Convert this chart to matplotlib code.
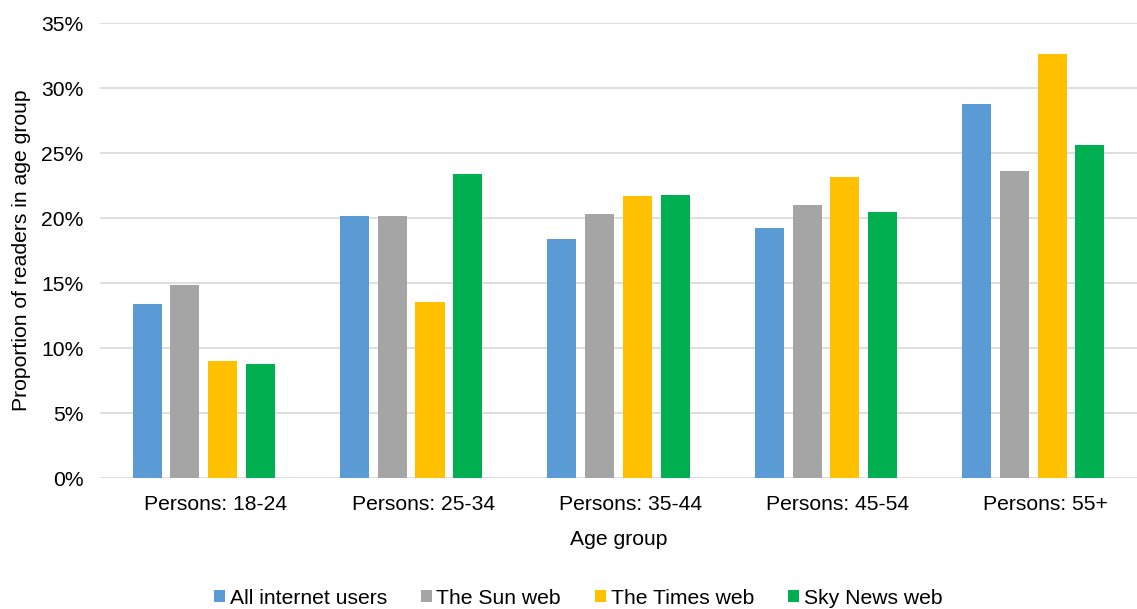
import matplotlib
matplotlib.use("Agg")
import matplotlib.pyplot as plt
import matplotlib.transforms as mtransforms
import numpy as np
from matplotlib.ticker import FuncFormatter

categories = ["Persons: 18-24", "Persons: 25-34", "Persons: 35-44", "Persons: 45-54", "Persons: 55+"]
series_names = ["All internet users", "The Sun web", "The Times web", "Sky News web"]
all_internet = [13.38, 20.2, 18.37, 19.21, 28.77]
sun_web = [14.87, 20.14, 20.32, 20.99, 23.6]
times_web = [8.97, 13.56, 21.68, 23.14, 32.59]
sky_web = [8.74, 23.4, 21.76, 20.47, 25.61]
colors = ["#5B9BD5", "#A5A5A5", "#FFC000", "#00B050"]
yticks = [0, 5, 10, 15, 20, 25, 30, 35]

plt.rcParams['font.family'] = ['Liberation Sans', 'DejaVu Sans']
FS = 15.2

fig = plt.figure(figsize=(11.37, 6.09), dpi=100)
ax = fig.add_axes([0.088, 0.215, 0.912, 0.747])

x = np.arange(len(categories))
pitch = 0.182
width = 0.14
data = [all_internet, sun_web, times_web, sky_web]
for i, (vals, name, c) in enumerate(zip(data, series_names, colors)):
    ax.bar(x + (i - 1.5) * pitch, vals, width=width, color=c, label=name, zorder=3)

ax.set_xlim(-0.5, len(categories) - 0.5)
ax.set_ylim(0, 35)
ax.set_yticks(yticks)
ax.yaxis.set_major_formatter(FuncFormatter(lambda v, p: f"{v:.0f}%"))
ax.set_xticks(x)
ax.set_xticklabels(categories)
ax.grid(axis='y', color='#D9D9D9', linewidth=1.2, zorder=0)
for s in ax.spines.values():
    s.set_visible(False)
ax.tick_params(axis='both', length=0, labelsize=FS, colors='#000000')
ax.tick_params(axis='x', pad=12)
ax.tick_params(axis='y', pad=12)
offset = mtransforms.ScaledTranslation(12 / 100, 0, fig.dpi_scale_trans)
for lbl in ax.get_xticklabels():
    lbl.set_transform(lbl.get_transform() + offset)
ax.set_xlabel("Age group", fontsize=FS, labelpad=12)
ax.set_ylabel("Proportion of readers in age group", fontsize=FS, labelpad=7)

leg = fig.legend(loc='center', bbox_to_anchor=(578 / 1137, 1 - 598 / 609), ncol=4, frameon=False,
                 fontsize=FS, handlelength=0.55, handleheight=0.55, handletextpad=0.2,
                 columnspacing=1.6, borderaxespad=0, borderpad=0)

fig.savefig("out.png", dpi=100)
